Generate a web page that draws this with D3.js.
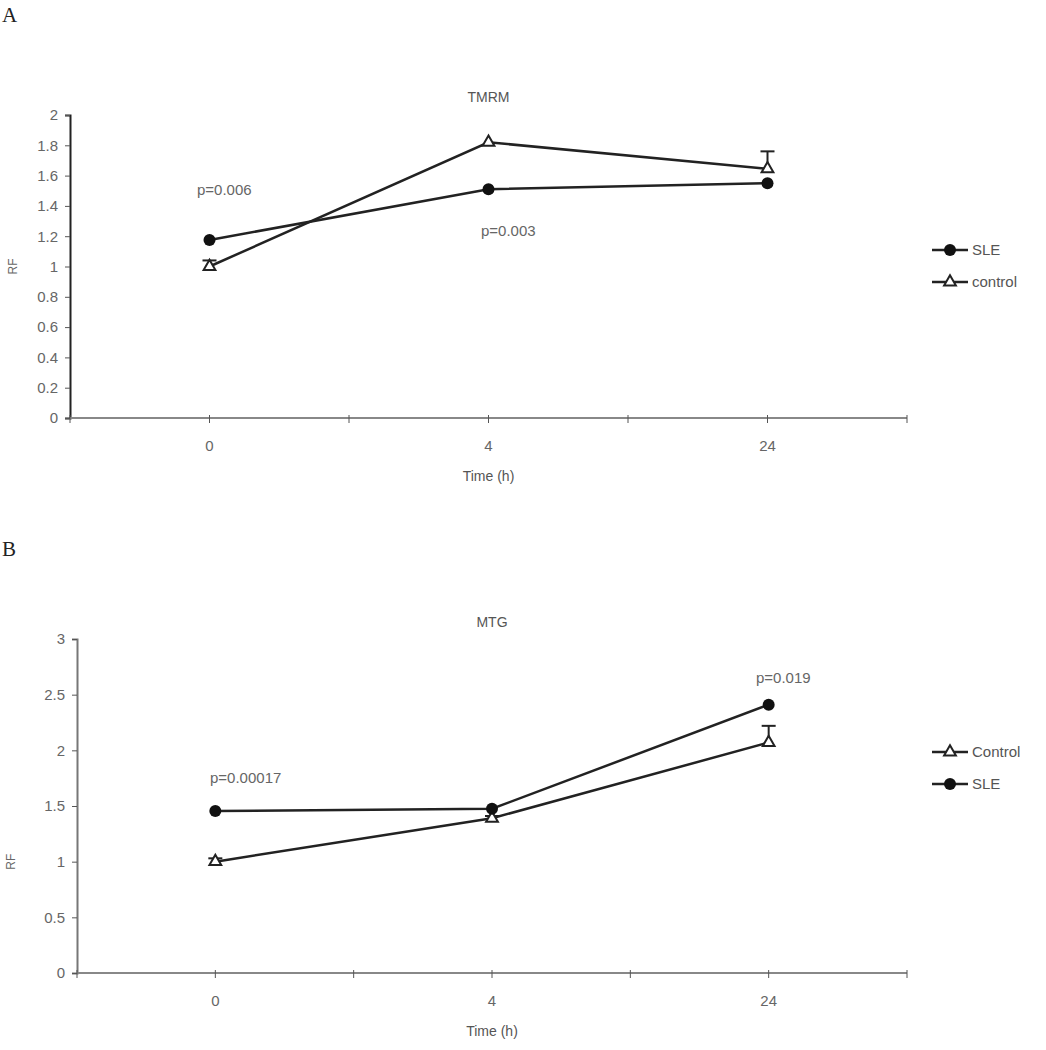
<!DOCTYPE html>
<html><head><meta charset="utf-8">
<script src="https://cdn.jsdelivr.net/npm/d3@7"></script>
<style>body{margin:0;background:#fff}svg{display:block}</style>
</head><body>
<script>
const times = ["0", "4", "24"];
// Panel A: TMRM
const tmrmSLE = [1.175, 1.51, 1.55];
const tmrmControl = [1.0, 1.82, 1.645];
const tmrmControlErr = [0.04, 0, 0.115];
const tmrmTicks = [0, 0.2, 0.4, 0.6, 0.8, 1, 1.2, 1.4, 1.6, 1.8, 2];
// Panel B: MTG
const mtgSLE = [1.455, 1.475, 2.41];
const mtgControl = [1.0, 1.39, 2.07];
const mtgControlErr = [0.03, 0.02, 0.15];
const mtgTicks = [0, 0.5, 1, 1.5, 2, 2.5, 3];

const svg = d3.select("body").append("svg").attr("width", 1046).attr("height", 1050);
const font = "Liberation Sans, Arial, sans-serif";

function panel(o) {
  const g = svg.append("g");
  const x = d3.scaleBand().domain(o.cats).range([o.x0, o.x1]);
  const xc = d => x(d) + x.bandwidth() / 2;
  const y = d3.scaleLinear().domain([0, o.ymax]).range([o.y0, o.y1]);

  g.append("text").attr("x", o.letterX).attr("y", o.letterY).text(o.letter)
    .attr("font-family", "Liberation Serif, Times New Roman, serif").attr("font-size", 21).attr("fill", "#222");
  g.append("text").attr("x", (o.x0 + o.x1) / 2 + 0).attr("y", o.titleY).attr("text-anchor", "middle")
    .text(o.title).attr("font-family", font).attr("font-size", 14).attr("fill", "#555");

  // y axis
  const ya = g.append("g").attr("transform", `translate(${o.x0},0)`)
    .call(d3.axisLeft(y).tickValues(o.ticks).tickSize(5).tickPadding(7).tickFormat(d3.format("")));
  ya.select(".domain").attr("stroke", o.yAxisColor).attr("stroke-width", 2);
  ya.selectAll(".tick line").attr("stroke", "#555");
  ya.selectAll("text").attr("font-family", font).attr("font-size", 15).attr("fill", "#666");

  // x axis
  const xa = g.append("g").attr("transform", `translate(0,${o.y0})`);
  xa.append("line").attr("x1", o.x0).attr("x2", o.x1).attr("y1", 0).attr("y2", 0).attr("stroke", "#888").attr("stroke-width", 2);
  const half = x.bandwidth() / 2;
  const tickPos = d3.range(0, o.cats.length * 2 + 1).map(i => o.x0 + i * half);
  xa.selectAll("line.t").data(tickPos).join("line").attr("class", "t")
    .attr("x1", d => d).attr("x2", d => d).attr("y1", -3).attr("y2", 5).attr("stroke", "#555");
  xa.selectAll("text").data(o.cats).join("text").attr("x", d => xc(d)).attr("y", 33)
    .attr("text-anchor", "middle").text(d => d).attr("font-family", font).attr("font-size", 15).attr("fill", "#666");
  g.append("text").attr("x", (o.x0 + o.x1) / 2).attr("y", o.y0 + 63).attr("text-anchor", "middle")
    .text("Time (h)").attr("font-family", font).attr("font-size", 14).attr("fill", "#555");
  g.append("text").attr("transform", `translate(${o.rfX},${y(1)}) rotate(-90)`).attr("text-anchor", "middle")
    .text("RF").attr("font-family", font).attr("font-size", 12).attr("fill", "#666");

  const line = d3.line().x((d, i) => xc(o.cats[i])).y(d => y(d));
  // error bars (control)
  o.control.forEach((v, i) => {
    if (!o.err[i]) return;
    const cx = xc(o.cats[i]);
    g.append("line").attr("x1", cx).attr("x2", cx).attr("y1", y(v)).attr("y2", y(v + o.err[i])).attr("stroke", "#222").attr("stroke-width", 2);
    g.append("line").attr("x1", cx - 7).attr("x2", cx + 7).attr("y1", y(v + o.err[i])).attr("y2", y(v + o.err[i])).attr("stroke", "#222").attr("stroke-width", 2);
  });
  g.append("path").datum(o.control).attr("d", line).attr("fill", "none").attr("stroke", "#222").attr("stroke-width", 2.5);
  g.append("path").datum(o.sle).attr("d", line).attr("fill", "none").attr("stroke", "#222").attr("stroke-width", 2.5);
  const tri = d3.symbol().type(d3.symbolTriangle).size(60);
  g.selectAll("path.tri").data(o.control).join("path").attr("class", "tri")
    .attr("transform", (d, i) => `translate(${xc(o.cats[i])},${y(d)})`).attr("d", tri)
    .attr("fill", "#fff").attr("stroke", "#222").attr("stroke-width", 2);
  g.selectAll("circle.sle").data(o.sle).join("circle").attr("class", "sle")
    .attr("cx", (d, i) => xc(o.cats[i])).attr("cy", d => y(d)).attr("r", 6).attr("fill", "#111");

  o.pvals.forEach(p => {
    g.append("text").attr("x", p.x).attr("y", p.y).text(p.t)
      .attr("font-family", font).attr("font-size", 15).attr("fill", "#666");
  });

  // legend
  o.legend.forEach((l, i) => {
    const ly = o.legendY + i * 32;
    g.append("line").attr("x1", 932).attr("x2", 968).attr("y1", ly).attr("y2", ly).attr("stroke", "#222").attr("stroke-width", 2.5);
    if (l.type === "circle") g.append("circle").attr("cx", 950).attr("cy", ly).attr("r", 6).attr("fill", "#111");
    else g.append("path").attr("transform", `translate(950,${ly})`).attr("d", tri).attr("fill", "#fff").attr("stroke", "#222").attr("stroke-width", 2);
    g.append("text").attr("x", 972).attr("y", ly + 5).text(l.name)
      .attr("font-family", font).attr("font-size", 15).attr("fill", "#555");
  });
}

panel({
  cats: times, sle: tmrmSLE, control: tmrmControl, err: tmrmControlErr, ticks: tmrmTicks, ymax: 2,
  x0: 70, x1: 907, y0: 418, y1: 115, letter: "A", letterX: 2, letterY: 22, title: "TMRM", titleY: 102,
  yAxisColor: "#222", rfX: 17,
  pvals: [{t: "p=0.006", x: 197, y: 195}, {t: "p=0.003", x: 481, y: 236}],
  legend: [{name: "SLE", type: "circle"}, {name: "control", type: "tri"}], legendY: 250
});
panel({
  cats: times, sle: mtgSLE, control: mtgControl, err: mtgControlErr, ticks: mtgTicks, ymax: 3,
  x0: 77, x1: 907, y0: 973, y1: 639, letter: "B", letterX: 2, letterY: 556, title: "MTG", titleY: 627,
  yAxisColor: "#777", rfX: 15,
  pvals: [{t: "p=0.00017", x: 210, y: 783}, {t: "p=0.019", x: 756, y: 683}],
  legend: [{name: "Control", type: "tri"}, {name: "SLE", type: "circle"}], legendY: 752
});
</script>
</body></html>
